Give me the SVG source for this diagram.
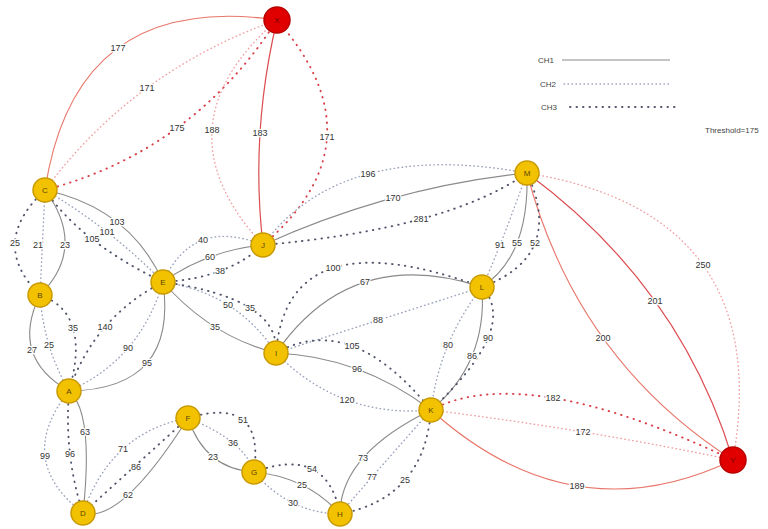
<svg xmlns="http://www.w3.org/2000/svg" width="768" height="529" viewBox="0 0 768 529">
<style>
.e{fill:none}
.c1{stroke:#8a8a8a;stroke-width:1.1}
.c2{stroke:#9aa2bc;stroke-width:1.4;stroke-dasharray:0.5 3.5;stroke-linecap:round}
.c3{stroke:#50556a;stroke-width:1.9;stroke-dasharray:0.5 6;stroke-linecap:round}
.r1{stroke:#e8766a;stroke-width:1.1}
.r1d{stroke:#dc4c50;stroke-width:1.2}
.r2{stroke:#f0a0a4;stroke-width:1.4;stroke-dasharray:0.5 3.5;stroke-linecap:round}
.r3{stroke:#d8404a;stroke-width:1.9;stroke-dasharray:0.5 6;stroke-linecap:round}
.lb{font-family:"Liberation Sans",Arial,sans-serif;font-size:9px;fill:#333;text-anchor:middle;stroke:#fff;stroke-width:2.5;paint-order:stroke;stroke-linejoin:round}
.nd{fill:#f2c200;stroke:#c99a00;stroke-width:1.5}
.nr{fill:#e00000;stroke:#b80000;stroke-width:1.5}
.nt{font-family:"Liberation Sans",Arial,sans-serif;font-size:8px;fill:#5a4400;text-anchor:middle}
.ntr{font-family:"Liberation Sans",Arial,sans-serif;font-size:8px;fill:#700000;text-anchor:middle}
.lg{font-family:"Liberation Sans",Arial,sans-serif;font-size:8px;fill:#444}
</style>
<rect width="768" height="529" fill="#fff"/>
<g id="connectors">
<path class="e r1" d="M45,190 Q75,-9 277,20"/>
<path class="e r2" d="M45,190 Q133,71 277,20"/>
<path class="e r3" d="M45,190 Q193,151 277,20"/>
<path class="e r2" d="M263,245 Q154,127.5 277,20"/>
<path class="e r1d" d="M263,245 Q250,133.5 277,20"/>
<path class="e r3" d="M263,245 Q384,141.5 277,20"/>
<path class="e r2" d="M527,173 Q776,213.5 733,460"/>
<path class="e r1d" d="M527,173 Q680,285.5 733,460"/>
<path class="e r1" d="M527,173 Q576,359.5 733,460"/>
<path class="e r3" d="M431,410 Q524,361 733,460"/>
<path class="e r2" d="M431,410 Q584,429 733,460"/>
<path class="e r1" d="M431,410 Q572,537 733,460"/>
<path class="e c3" d="M45,190 Q-12.5,243.5 40,295"/>
<path class="e c2" d="M45,190 L40,295"/>
<path class="e c1" d="M45,190 Q87.5,247.5 40,295"/>
<path class="e c1" d="M45,190 Q130,208 163,282"/>
<path class="e c2" d="M45,190 Q110,228 163,282"/>
<path class="e c3" d="M45,190 Q80,242 163,282"/>
<path class="e c1" d="M40,295 Q9.5,357 69,391"/>
<path class="e c2" d="M40,295 Q43.5,347 69,391"/>
<path class="e c3" d="M40,295 Q91.5,313 69,391"/>
<path class="e c3" d="M163,282 Q94,317.5 69,391"/>
<path class="e c2" d="M163,282 Q140,359.5 69,391"/>
<path class="e c1" d="M163,282 Q178,389.5 69,391"/>
<path class="e c2" d="M163,282 Q193,216.5 263,245"/>
<path class="e c1" d="M163,282 Q207,250.5 263,245"/>
<path class="e c3" d="M163,282 Q227,278.5 263,245"/>
<path class="e c2" d="M163,282 Q236.5,292.5 276,353"/>
<path class="e c3" d="M163,282 Q280.5,298.5 276,353"/>
<path class="e c1" d="M163,282 Q210.5,336.5 276,353"/>
<path class="e c2" d="M263,245 Q341,139 527,173"/>
<path class="e c1" d="M263,245 Q391,187 527,173"/>
<path class="e c3" d="M263,245 Q447,229 527,173"/>
<path class="e c3" d="M276,353 Q287,216 482,287"/>
<path class="e c1" d="M276,353 Q351,244 482,287"/>
<path class="e c2" d="M276,353 L482,287"/>
<path class="e c2" d="M527,173 Q495.5,260 482,287"/>
<path class="e c1" d="M527,173 Q529.5,256 482,287"/>
<path class="e c3" d="M527,173 Q565.5,256 482,287"/>
<path class="e c2" d="M482,287 Q439.5,341.5 431,410"/>
<path class="e c1" d="M482,287 Q487.5,363.5 431,410"/>
<path class="e c3" d="M482,287 Q519.5,327.5 431,410"/>
<path class="e c3" d="M276,353 Q350.5,310.5 431,410"/>
<path class="e c1" d="M276,353 Q360.5,356.5 431,410"/>
<path class="e c2" d="M276,353 Q340.5,418.5 431,410"/>
<path class="e c1" d="M431,410 Q340.5,454 340,514"/>
<path class="e c2" d="M431,410 Q358.5,492 340,514"/>
<path class="e c3" d="M431,410 Q424.5,498 340,514"/>
<path class="e c3" d="M254,472 Q327,445 340,514"/>
<path class="e c1" d="M254,472 Q307,477 340,514"/>
<path class="e c2" d="M254,472 Q289,513 340,514"/>
<path class="e c3" d="M188,418 Q265,395 254,472"/>
<path class="e c2" d="M188,418 Q245,441 254,472"/>
<path class="e c1" d="M188,418 Q205,469 254,472"/>
<path class="e c2" d="M188,418 Q110.5,432.5 83,513"/>
<path class="e c3" d="M188,418 L83,513"/>
<path class="e c1" d="M188,418 Q120.5,524.5 83,513"/>
<path class="e c2" d="M69,391 Q14,460 83,513"/>
<path class="e c3" d="M69,391 Q64,456 83,513"/>
<path class="e c1" d="M69,391 Q94,412 83,513"/>
</g>
<g id="edge-labels">
<text class="lb" x="118" y="51">177</text>
<text class="lb" x="147" y="91">171</text>
<text class="lb" x="177" y="131">175</text>
<text class="lb" x="212" y="133">188</text>
<text class="lb" x="260" y="136">183</text>
<text class="lb" x="327" y="140">171</text>
<text class="lb" x="703" y="268">250</text>
<text class="lb" x="655" y="304">201</text>
<text class="lb" x="603" y="341">200</text>
<text class="lb" x="553" y="401">182</text>
<text class="lb" x="583" y="435">172</text>
<text class="lb" x="577" y="489">189</text>
<text class="lb" x="15" y="246">25</text>
<text class="lb" x="38" y="248">21</text>
<text class="lb" x="65" y="248">23</text>
<text class="lb" x="117" y="225">103</text>
<text class="lb" x="107" y="235">101</text>
<text class="lb" x="92" y="242">105</text>
<text class="lb" x="32" y="353">27</text>
<text class="lb" x="49" y="348">25</text>
<text class="lb" x="73" y="331">35</text>
<text class="lb" x="105" y="330">140</text>
<text class="lb" x="128" y="351">90</text>
<text class="lb" x="147" y="366">95</text>
<text class="lb" x="203" y="243">40</text>
<text class="lb" x="210" y="260">60</text>
<text class="lb" x="220" y="274">38</text>
<text class="lb" x="228" y="308">50</text>
<text class="lb" x="250" y="311">35</text>
<text class="lb" x="215" y="330">35</text>
<text class="lb" x="368" y="177">196</text>
<text class="lb" x="393" y="201">170</text>
<text class="lb" x="421" y="222">281</text>
<text class="lb" x="333" y="271">100</text>
<text class="lb" x="365" y="285">67</text>
<text class="lb" x="378" y="323">88</text>
<text class="lb" x="500" y="248">91</text>
<text class="lb" x="517" y="246">55</text>
<text class="lb" x="535" y="246">52</text>
<text class="lb" x="448" y="348">80</text>
<text class="lb" x="472" y="359">86</text>
<text class="lb" x="488" y="341">90</text>
<text class="lb" x="352" y="349">105</text>
<text class="lb" x="357" y="372">96</text>
<text class="lb" x="347" y="403">120</text>
<text class="lb" x="363" y="461">73</text>
<text class="lb" x="372" y="480">77</text>
<text class="lb" x="405" y="483">25</text>
<text class="lb" x="312" y="472">54</text>
<text class="lb" x="302" y="488">25</text>
<text class="lb" x="293" y="506">30</text>
<text class="lb" x="243" y="423">51</text>
<text class="lb" x="233" y="446">36</text>
<text class="lb" x="213" y="460">23</text>
<text class="lb" x="123" y="452">71</text>
<text class="lb" x="136" y="470">86</text>
<text class="lb" x="128" y="498">62</text>
<text class="lb" x="45" y="459">99</text>
<text class="lb" x="70" y="457">96</text>
<text class="lb" x="85" y="435">63</text>
</g>
<g id="node-X"><circle class="nr" cx="277" cy="20" r="13"/><text class="ntr" x="277" y="23">X</text></g>
<g id="node-Y"><circle class="nr" cx="733" cy="460" r="13"/><text class="ntr" x="733" y="463">Y</text></g>
<g id="node-C"><circle class="nd" cx="45" cy="190" r="12"/><text class="nt" x="45" y="193">C</text></g>
<g id="node-B"><circle class="nd" cx="40" cy="295" r="12"/><text class="nt" x="40" y="298">B</text></g>
<g id="node-E"><circle class="nd" cx="163" cy="282" r="12"/><text class="nt" x="163" y="285">E</text></g>
<g id="node-J"><circle class="nd" cx="263" cy="245" r="12"/><text class="nt" x="263" y="248">J</text></g>
<g id="node-M"><circle class="nd" cx="527" cy="173" r="12"/><text class="nt" x="527" y="176">M</text></g>
<g id="node-L"><circle class="nd" cx="482" cy="287" r="12"/><text class="nt" x="482" y="290">L</text></g>
<g id="node-I"><circle class="nd" cx="276" cy="353" r="12"/><text class="nt" x="276" y="356">I</text></g>
<g id="node-A"><circle class="nd" cx="69" cy="391" r="12"/><text class="nt" x="69" y="394">A</text></g>
<g id="node-F"><circle class="nd" cx="188" cy="418" r="12"/><text class="nt" x="188" y="421">F</text></g>
<g id="node-G"><circle class="nd" cx="254" cy="472" r="12"/><text class="nt" x="254" y="475">G</text></g>
<g id="node-H"><circle class="nd" cx="340" cy="514" r="12"/><text class="nt" x="340" y="517">H</text></g>
<g id="node-D"><circle class="nd" cx="83" cy="513" r="12"/><text class="nt" x="83" y="516">D</text></g>
<g id="node-K"><circle class="nd" cx="431" cy="410" r="12"/><text class="nt" x="431" y="413">K</text></g>
<g id="legend">
<text class="lg" x="538" y="63">CH1</text>
<line class="e c1" x1="562" y1="60" x2="670" y2="60"/>
<text class="lg" x="540" y="87">CH2</text>
<line class="e c2" x1="564" y1="84" x2="672" y2="84"/>
<text class="lg" x="541" y="110">CH3</text>
<line class="e c3" x1="570" y1="107" x2="676" y2="107"/>
<text class="lg" x="705" y="133">Threshold=175</text>
</g>
</svg>
